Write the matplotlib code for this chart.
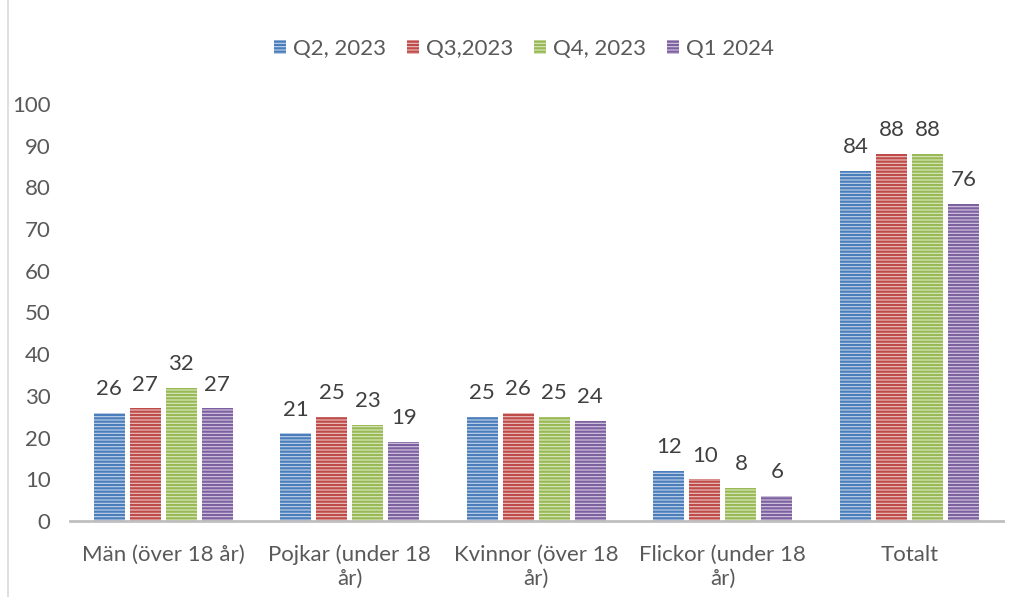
import numpy as np
import matplotlib.pyplot as plt
from matplotlib.lines import Line2D

plt.rcParams['font.family'] = ['Lato', 'DejaVu Sans']
plt.rcParams['hatch.linewidth'] = 1.6

categories = ["Män (över 18 år)", "Pojkar (under 18\når)", "Kvinnor (över 18\når)",
              "Flickor (under 18\når)", "Totalt"]
series = ["Q2, 2023", "Q3,2023", "Q4, 2023", "Q1 2024"]
q2_2023 = [26, 21, 25, 12, 84]
q3_2023 = [27, 25, 26, 10, 88]
q4_2023 = [32, 23, 25, 8, 88]
q1_2024 = [27, 19, 24, 6, 76]

colors = ["#4a7ebb", "#be4b48", "#98b954", "#7d60a0"]
light = ["#c3d3ea", "#ecc4c3", "#dbe8c4", "#d4c9e1"]
text_color = "#595959"
fs = 16

fig = plt.figure(figsize=(10.19, 5.97), dpi=100)
ax = fig.add_axes([0.0687, 0.1273, 0.9153, 0.6985])

x = np.arange(len(categories))
width = 0.166
pitch = 0.193
values = [q2_2023, q3_2023, q4_2023, q1_2024]
for i, (vals, c, lc) in enumerate(zip(values, colors, light)):
    pos = x + (i - 1.5) * pitch
    bars = ax.bar(pos, vals, width, color=lc, edgecolor=c, hatch='-----',
                  linewidth=0)
    for b, v in zip(bars, vals):
        ax.text(b.get_x() + b.get_width() / 2, v + 3.3, str(v), ha='center',
                va='bottom', fontsize=fs, color='#404040')

ax.set_xlim(-0.5, len(categories) - 0.5)
ax.set_ylim(0, 100)
ax.set_yticks(range(0, 101, 10))
ax.set_xticks(x)
ax.set_xticklabels(categories, linespacing=1.25)
ax.tick_params(axis='both', length=0, labelsize=fs, colors=text_color)
ax.tick_params(axis='y', pad=14)
ax.tick_params(axis='x', pad=17)
for s in ['top', 'right', 'left']:
    ax.spines[s].set_visible(False)
ax.spines['bottom'].set_color('#bfbfbf')
ax.spines['bottom'].set_linewidth(2)

handles = [plt.Rectangle((0, 0), 1, 1, facecolor=lc, edgecolor=c, hatch='-----', linewidth=0)
           for c, lc in zip(colors, light)]
leg = fig.legend(handles, series, loc='center', bbox_to_anchor=(0.514, 0.918), ncol=4,
                 frameon=False, fontsize=fs, handlelength=0.55, handleheight=0.55,
                 handletextpad=0.3, columnspacing=0.95, labelcolor=text_color)

fig.add_artist(Line2D([0.008, 0.008], [0, 1], color='#d9d9d9', linewidth=1.2,
                      transform=fig.transFigure))

fig.savefig("out.png", dpi=100)
